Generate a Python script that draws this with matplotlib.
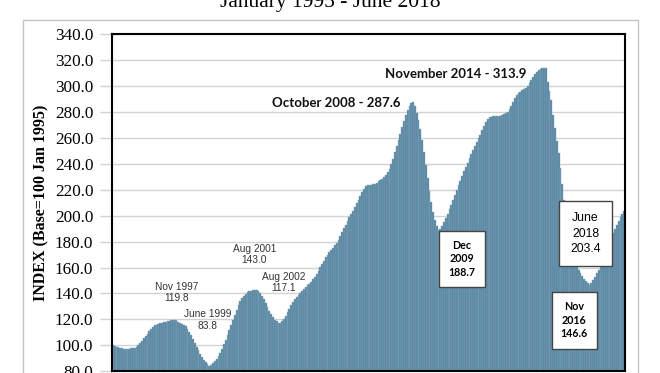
import numpy as np
import matplotlib
matplotlib.use('Agg')
import matplotlib.pyplot as plt
from matplotlib.patches import Rectangle

# monthly index values, Jan 1995 - June 2018
y1995 = [100.0, 99.6, 99.0, 98.4, 97.9, 97.6, 97.4, 97.3, 97.3, 97.4, 97.6, 97.8]
y1996 = [98.0, 98.6, 100.0, 101.8, 103.6, 105.4, 107.2, 109.0, 110.8, 112.6, 114.2, 115.4]
y1997 = [116.0, 116.6, 117.1, 117.5, 117.9, 118.3, 118.7, 119.0, 119.3, 119.5, 119.8, 119.2]
y1998 = [118.2, 117.4, 116.6, 115.8, 114.8, 112.9, 110.5, 107.8, 104.8, 101.6, 98.6, 96.0]
y1999 = [93.4, 91.0, 88.9, 87.1, 85.4, 83.8, 84.6, 86.2, 87.9, 89.7, 91.6, 94.2]
y2000 = [97.4, 100.8, 104.2, 107.8, 111.6, 115.5, 119.6, 123.6, 127.4, 131.0, 134.0, 136.6]
y2001 = [138.4, 139.8, 140.8, 141.6, 142.2, 142.6, 142.8, 143.0, 142.0, 140.4, 138.2, 135.6]
y2002 = [132.8, 129.8, 126.8, 124.0, 121.6, 119.8, 118.4, 117.1, 117.4, 118.4, 120.2, 122.6]
y2003 = [125.4, 128.2, 131.0, 133.4, 135.6, 137.4, 139.0, 140.6, 142.0, 143.4, 144.8, 146.2]
y2004 = [147.6, 149.2, 151.0, 153.0, 155.2, 157.6, 160.2, 162.8, 165.4, 167.8, 170.0, 172.0]
y2005 = [173.6, 175.4, 177.2, 179.2, 181.4, 184.2, 187.2, 190.2, 193.2, 196.0, 198.8, 201.4]
y2006 = [204.0, 206.8, 209.6, 212.4, 215.2, 218.0, 220.6, 222.6, 223.4, 223.6, 223.8, 224.2]
y2007 = [224.8, 225.6, 226.4, 227.2, 228.4, 229.8, 231.4, 233.4, 236.0, 239.6, 244.0, 249.0]
y2008 = [254.0, 258.6, 263.4, 268.2, 273.0, 277.6, 281.6, 284.6, 286.6, 287.6, 284.4, 279.6]
y2009 = [273.8, 266.8, 258.4, 249.0, 239.0, 229.0, 219.4, 210.6, 203.0, 196.8, 192.0, 188.7]
y2010 = [189.6, 191.8, 194.8, 198.2, 201.6, 205.0, 208.4, 212.0, 215.8, 219.6, 223.4, 227.0]
y2011 = [230.6, 234.2, 237.6, 241.0, 244.4, 247.8, 251.0, 254.0, 256.8, 259.6, 262.6, 266.0]
y2012 = [269.6, 272.6, 274.6, 275.8, 276.4, 276.8, 277.0, 277.0, 276.8, 277.0, 277.6, 278.6]
y2013 = [279.0, 280.4, 282.6, 285.0, 288.0, 290.8, 293.0, 294.6, 295.8, 296.8, 297.8, 298.8]
y2014 = [300.2, 302.4, 304.8, 307.0, 309.0, 310.8, 312.2, 313.2, 313.7, 313.8, 313.9, 303.0]
y2015 = [296.0, 289.0, 278.0, 268.0, 258.0, 248.4, 236.8, 224.6, 212.4, 200.8, 190.2, 181.4]
y2016 = [174.4, 169.0, 164.8, 161.4, 158.4, 155.8, 153.4, 151.2, 149.4, 147.8, 146.6, 148.2]
y2017 = [150.0, 152.6, 155.4, 158.4, 161.6, 165.0, 168.6, 172.2, 175.8, 179.4, 183.0, 186.6]
y2018 = [190.0, 193.2, 196.2, 199.0, 201.4, 203.4]

index = (y1995 + y1996 + y1997 + y1998 + y1999 + y2000 + y2001 + y2002 + y2003 + y2004
         + y2005 + y2006 + y2007 + y2008 + y2009 + y2010 + y2011 + y2012 + y2013
         + y2014 + y2015 + y2016 + y2017 + y2018)
months = np.arange(len(index))

yticks = [80, 100, 120, 140, 160, 180, 200, 220, 240, 260, 280, 300, 320, 340]

fig = plt.figure(figsize=(6.6, 3.73), dpi=100)
fig.patches.append(Rectangle((23/660, -0.1), 615/660, 1.1 - 20/373, transform=fig.transFigure,
                             fill=False, edgecolor='#c4c4c4', linewidth=1))
ax = fig.add_axes([112/660, 1 - 371.2/373, 513/660, (371.2 - 34.3)/373])

ax.bar(months, index, width=1.0, color='#56849f', edgecolor='#86a9be', linewidth=0.3, zorder=2)

ax.set_xlim(-0.5, len(index) - 0.5)
ax.set_ylim(80, 340)
ax.set_yticks(yticks)
ax.set_yticklabels([f'{v:.1f}' for v in yticks], family='Liberation Serif', fontsize=12.3)
ax.set_xticks([])
ax.yaxis.grid(True, color='#d2d2d2', linewidth=1, zorder=0)
ax.set_axisbelow(True)
ax.tick_params(axis='y', length=8.5, color='#d2d2d2', width=1, pad=5)
for s in ax.spines.values():
    s.set_linewidth(1.5)
    s.set_color('black')

ax.set_ylabel('INDEX (Base=100 Jan 1995)', family='Liberation Serif', fontweight='bold',
              fontsize=11.5, labelpad=4)

fig.text(0.5, 1 - 7.5/373, 'January 1995 - June 2018', family='Liberation Serif',
         fontsize=15.5, ha='center', va='baseline')

# plain annotations
plain = dict(family='Liberation Sans', fontsize=7.3, color='#333333', ha='center',
             va='center', linespacing=1.2, zorder=5)
ax.text(35, 140.8, 'Nov 1997\n119.8', **plain)
ax.text(52, 119.3, 'June 1999\n83.8', **plain)
ax.text(77.7, 170, 'Aug 2001\n143.0', **plain)
ax.text(93.8, 148.5, 'Aug 2002\n117.1', **plain)

bold = dict(family='Lato', fontweight='bold', fontsize=9.5, color='#111111', va='center', zorder=5)
ax.text(87.5, 286.7, 'October 2008 - 287.6', ha='left', **bold)
ax.text(149.7, 309.2, 'November 2014 - 313.9', ha='left', **bold)

box = dict(boxstyle='square,pad=0.85', facecolor='white', edgecolor='#444444', linewidth=1)
ax.text(191.9, 166.7, 'Dec\n2009\n188.7', family='Lato', fontweight='bold', fontsize=7.7,
        ha='center', va='center', linespacing=1.3, bbox=box, zorder=6)
ax.text(253.6, 119.3, 'Nov\n2016\n146.6', family='Lato', fontweight='bold', fontsize=7.7,
        ha='center', va='center', linespacing=1.3, bbox=box, zorder=6)
ax.text(259.8, 186.2, 'June\n2018\n203.4', family='Liberation Sans',
        fontsize=8.8, ha='center', va='center', linespacing=1.35,
        bbox=dict(boxstyle='square,pad=0.95', facecolor='white', edgecolor='#444444', linewidth=1),
        zorder=6)

fig.savefig('out.png', dpi=100)
